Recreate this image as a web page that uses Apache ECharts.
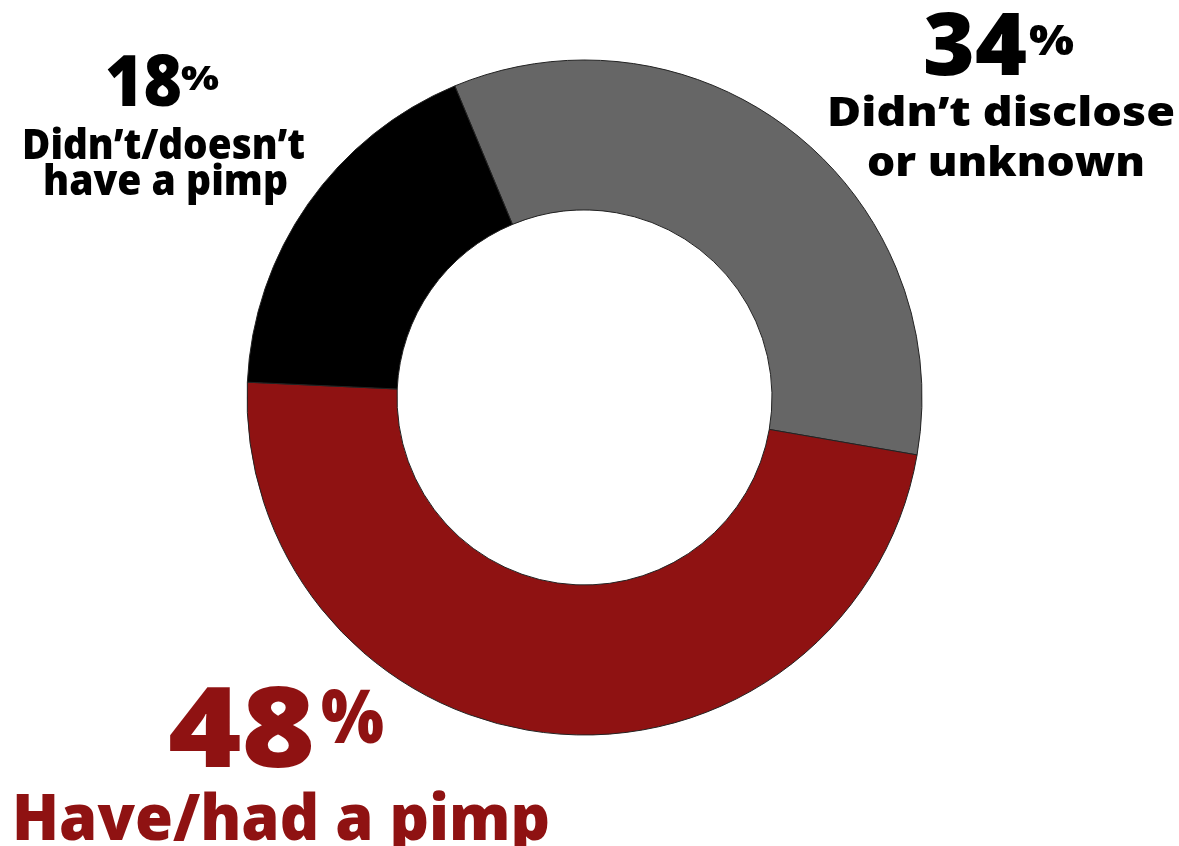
<!DOCTYPE html>
<html>
<head>
<meta charset="utf-8">
<script src="https://cdn.jsdelivr.net/npm/echarts@6/dist/echarts.min.js"></script>
<style>html,body{margin:0;padding:0;background:#fff}#c{width:1179px;height:846px}</style>
</head>
<body>
<div id="c"></div>
<script>
const categories = ['Didn’t disclose\nor unknown', 'Have/had a pimp', 'Didn’t/doesn’t\nhave a pimp'];
const values = [34, 48, 18];
const colors = ['#666666', '#8f1212', '#000000'];

const FONT = '"Open Sans", "DejaVu Sans", sans-serif';
const chart = echarts.init(document.getElementById('c'));

// per-slice text boxes: [left, right, baseline, fontSize]
const layout = [
  {color: '#000', num: [923, 1027, 76, 87], pct: [1029, 1074, 56, 43],
   lines: [[827, 1175, 127, 41], [867, 1145, 177, 41]]},
  {color: '#8f1212', num: [168, 315, 769, 112], pct: [321, 384, 744, 74],
   lines: [[12, 550, 841, 63]]},
  {color: '#000', num: [105, 182, 107, 70], pct: [181, 219, 91, 34],
   lines: [[22, 305, 160, 42], [43, 288, 196, 42]]}
];

const ctx = document.createElement('canvas').getContext('2d');
function txt(text, box, color) {
  const [l, r, base, size] = box;
  const font = '800 ' + size + 'px ' + FONT;
  ctx.font = font;
  const w = ctx.measureText(text).width;
  return {type: 'text', x: l, y: base - 0.30 * size, scaleX: (r - l) / w,
    style: {text: text, font: font, fill: color, align: 'left', verticalAlign: 'middle'}};
}

const graphics = [];
values.forEach((v, i) => {
  const L = layout[i];
  graphics.push(txt(String(v), L.num, L.color));
  graphics.push(txt('%', L.pct, L.color));
  categories[i].split('\n').forEach((line, k) => graphics.push(txt(line, L.lines[k], L.color)));
});

chart.setOption({
  animation: false,
  series: [{
    type: 'pie',
    center: [584.5, 397.5],
    radius: [187.5, 337.5],
    startAngle: 112.6,
    clockwise: true,
    label: {show: false},
    labelLine: {show: false},
    itemStyle: {borderColor: '#222', borderWidth: 1},
    emphasis: {disabled: true},
    data: values.map((v, i) => ({value: v, name: categories[i], itemStyle: {color: colors[i]}}))
  }],
  graphic: graphics
});
</script>
</body>
</html>
